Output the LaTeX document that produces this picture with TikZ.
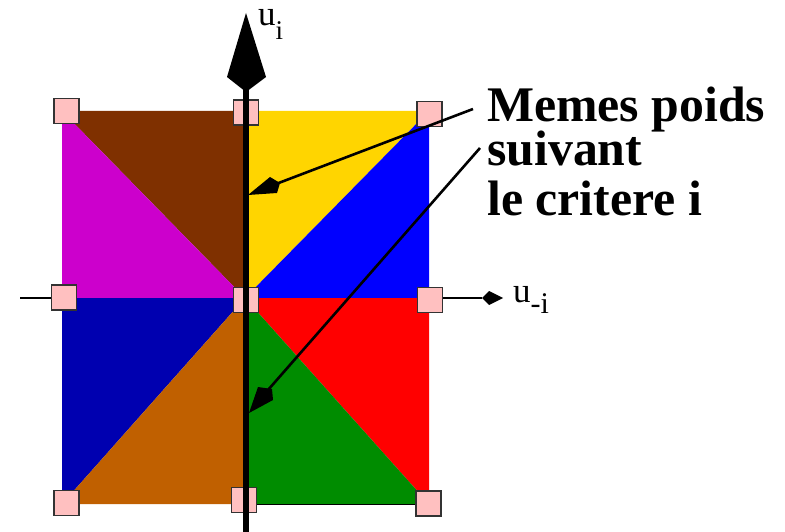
\documentclass[tikz,border=0pt]{standalone}
\usepackage{fontspec}
\setmainfont{Liberation Serif}
\definecolor{cbrown}{HTML}{7F3000}
\definecolor{cmagenta}{HTML}{CC00CC}
\definecolor{cyellow}{HTML}{FFD500}
\definecolor{cblue}{HTML}{0000FF}
\definecolor{cdblue}{HTML}{0000B0}
\definecolor{corange}{HTML}{C06000}
\definecolor{cred}{HTML}{FF0000}
\definecolor{cgreen}{HTML}{008C00}
\definecolor{cpink}{HTML}{FFC0C0}
\begin{document}
\begin{tikzpicture}[x=1pt,y=-1pt,
  markbox/.style={draw=black!80, fill=cpink, minimum size=25pt, inner sep=0pt, line width=1.2pt},
  pointer/.style={line width=2.6pt},
  lbl/.style={inner sep=0pt, anchor=base west},
  big/.style={inner sep=0pt, anchor=base west, font=\fontsize{49.8}{49.8}\selectfont\bfseries}]
\useasboundingbox (0,0) rectangle (785,532);
% horizontal axis
\coordinate (hstart) at (20,298);
\coordinate (hend) at (482,298);
\draw[line width=1.5pt] (hstart) -- (hend);
\fill (503,298) -- (489,291) -- (482,298) -- (489,305) -- cycle;
% coloured sectors
\coordinate (C) at (245,298);
\fill[cbrown]   (62,111) -- (245,111) -- (C) -- cycle;
\fill[cmagenta] (62,111) -- (62,298) -- (C) -- cycle;
\fill[cyellow]  (245,111) -- (429,111) -- (C) -- cycle;
\fill[cblue]    (429,111) -- (429,298) -- (C) -- cycle;
\fill[cdblue]   (62,298) -- (C) -- (62,504) -- cycle;
\fill[corange]  (62,504) -- (245,504) -- (C) -- cycle;
\fill[cred]     (C) -- (429,298) -- (429,504) -- cycle;
\fill[cgreen]   (C) -- (429,504) -- (245,504) -- cycle;
\draw[line width=1pt] (245,504) -- (416,504);
% marker boxes
\node[markbox] (tl) at (66.5,111) {};
\node[markbox] (tm) at (246,112.5) {};
\node[markbox] (tr) at (429.5,114) {};
\node[markbox] (ml) at (64,297.5) {};
\node[markbox] (mm) at (246,300) {};
\node[markbox] (mr) at (430,300) {};
\node[markbox] (bl) at (66.5,503) {};
\node[markbox] (bm) at (244,500) {};
\node[markbox] (br) at (428.5,503.5) {};
% vertical axis
\coordinate (vbot) at (246,532);
\coordinate (vtop) at (246,86);
\draw[line width=6pt] (vbot) -- (vtop);
\fill (246,13) -- (266,77) -- (246,92) -- (227,77) -- cycle;
% axis labels
\node[lbl, font=\fontsize{35}{35}\selectfont] (ui) at (258,26) {u\raisebox{-14pt}{\fontsize{27}{27}\selectfont i}};
\node[lbl, font=\fontsize{35}{35}\selectfont] (umi) at (513,302) {u\raisebox{-11pt}{\fontsize{30}{30}\selectfont -i}};
% annotation
\node[big] (memes) at (487,122) {Memes poids};
\node[big] (suivant) at (487,166) {suivant};
\node[big] (critere) at (487,215) {le critere i};
\coordinate (p1s) at (473,109);
\coordinate (p1e) at (276,184);
\coordinate (p2s) at (480,148);
\coordinate (p2e) at (268,390);
\draw[pointer] (p1s) -- (p1e);
\fill (248,195) -- (270,177) -- (280,183) -- (277,193) -- cycle;
\draw[pointer] (p2s) -- (p2e);
\fill (249,413) -- (258,387) -- (272,389) -- (273,400) -- cycle;
\end{tikzpicture}
\end{document}
